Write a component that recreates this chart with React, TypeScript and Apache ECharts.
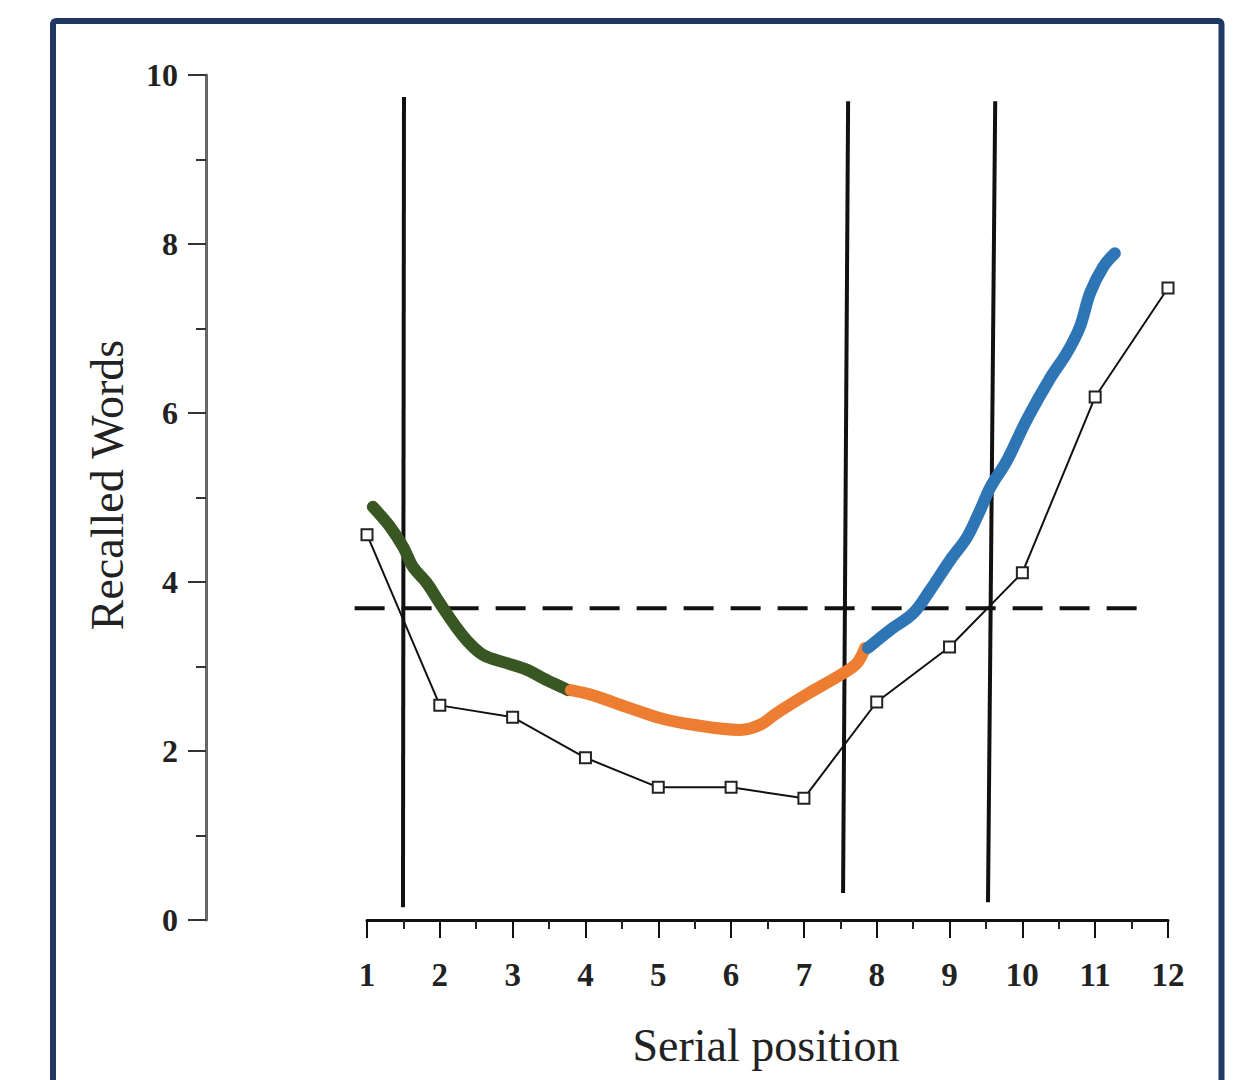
import React, { useEffect, useRef } from "react";
import * as echarts from "echarts";

// Serial-position data (black line with hollow squares)
const serialPositions = [1, 2, 3, 4, 5, 6, 7, 8, 9, 10, 11, 12];
const recalledWords = [4.56, 2.54, 2.4, 1.92, 1.57, 1.57, 1.44, 2.58, 3.23, 4.11, 6.19, 7.48];

// Axis ticks
const xTickValues = [1, 2, 3, 4, 5, 6, 7, 8, 9, 10, 11, 12];
const yTickValues = [0, 2, 4, 6, 8, 10];

// Hand-drawn highlight curves
const primacyCurve = [
  [1.08, 4.89], [1.32, 4.65], [1.5, 4.41], [1.63, 4.18], [1.82, 3.99], [2.0, 3.75],
  [2.18, 3.52], [2.37, 3.31], [2.59, 3.14], [2.92, 3.04], [3.2, 2.96], [3.42, 2.86],
  [3.69, 2.75], [3.76, 2.72],
];
const middleCurve = [
  [3.8, 2.72], [4.1, 2.66], [4.57, 2.52], [5.02, 2.39], [5.48, 2.31], [6.12, 2.25],
  [6.4, 2.31], [6.63, 2.45], [7.08, 2.69], [7.54, 2.92], [7.73, 3.04], [7.84, 3.22],
];
const recencyCurve = [
  [7.88, 3.22], [8.18, 3.43], [8.5, 3.63], [8.73, 3.9], [9.01, 4.26], [9.24, 4.53],
  [9.42, 4.85], [9.56, 5.12], [9.79, 5.44], [10.06, 5.92], [10.38, 6.41], [10.61, 6.71],
  [10.79, 7.02], [10.93, 7.42], [11.11, 7.73], [11.27, 7.89],
];

// Reference lines
const averageLevel = 3.69;
const averageSpan = [0.83, 11.62];
const boundaryLines = [
  [[1.508, 9.74], [1.494, 0.15]],
  [[7.607, 9.69], [7.538, 0.32]],
  [[9.627, 9.69], [9.528, 0.21]],
];

const FONT = "'Liberation Serif', 'Times New Roman', serif";

export default function App() {
  const ref = useRef<HTMLDivElement>(null);

  useEffect(() => {
    if (!ref.current) return;
    const chart = echarts.init(ref.current, undefined, { renderer: "svg" });

    const boundarySeries = boundaryLines.map((pts) => ({
      type: "line",
      data: pts,
      symbol: "none",
      clip: false,
      silent: true,
      lineStyle: { color: "#111", width: 4 },
      z: 2,
    }));

    const curve = (data: number[][], color: string) => ({
      type: "line",
      data,
      symbol: "none",
      smooth: 0.35,
      clip: false,
      lineStyle: { color, width: 12, cap: "round", join: "round" },
      z: 5,
    });

    chart.setOption({
      animation: false,
      backgroundColor: "#ffffff",
      grid: { left: 367, right: 75, top: 75, bottom: 160, containLabel: false },
      xAxis: {
        type: "value",
        min: 1,
        max: 12,
        interval: 1,
        axisLine: { show: true, lineStyle: { color: "#151010", width: 3 } },
        axisTick: { show: true, length: 18, lineStyle: { color: "#151010", width: 2 } },
        minorTick: { show: true, splitNumber: 2, length: 9, lineStyle: { color: "#222", width: 2 } },
        splitLine: { show: false },
        axisLabel: {
          margin: 38,
          fontFamily: FONT,
          fontSize: 33,
          fontWeight: "bold",
          color: "#222",
          formatter: (v: number) => (xTickValues.includes(v) ? String(v) : ""),
        },
      },
      yAxis: {
        type: "value",
        min: 0,
        max: 10,
        interval: 2,
        position: "left",
        offset: 161,
        axisLine: { show: true, lineStyle: { color: "#666", width: 3 } },
        axisTick: { show: true, length: 18, lineStyle: { color: "#333", width: 2 } },
        minorTick: { show: true, splitNumber: 2, length: 10, lineStyle: { color: "#333", width: 2 } },
        splitLine: { show: false },
        axisLabel: {
          margin: 28,
          fontFamily: FONT,
          fontSize: 32,
          fontWeight: "bold",
          color: "#222",
          formatter: (v: number) => (yTickValues.includes(v) ? String(v) : ""),
        },
      },
      graphic: [
        {
          type: "rect",
          shape: { x: 53, y: 21, width: 1168.5, height: 1100, r: 3 },
          style: { fill: "none", stroke: "#203864", lineWidth: 6 },
          silent: true,
          z: 0,
        },
        {
          type: "text",
          x: 107,
          y: 485,
          rotation: Math.PI / 2,
          style: {
            text: "Recalled Words",
            font: `46px ${FONT}`,
            fill: "#222",
            align: "center",
            verticalAlign: "middle",
          },
          silent: true,
        },
        {
          type: "text",
          x: 766,
          y: 1045,
          style: {
            text: "Serial position",
            font: `46px ${FONT}`,
            fill: "#222",
            align: "center",
            verticalAlign: "middle",
          },
          silent: true,
        },
      ],
      series: [
        ...boundarySeries,
        {
          type: "custom",
          silent: true,
          clip: false,
          data: [[averageSpan[0], averageSpan[1], averageLevel]],
          encode: { x: [0, 1], y: 2 },
          renderItem: (params: any, api: any) => {
            const p1 = api.coord([api.value(0), api.value(2)]);
            const p2 = api.coord([api.value(1), api.value(2)]);
            return {
              type: "line",
              shape: { x1: p1[0], y1: p1[1], x2: p2[0], y2: p2[1] },
              style: { stroke: "#111", lineWidth: 4, lineDash: [30, 17], fill: null },
            };
          },
          z: 2,
        },
        {
          type: "line",
          data: serialPositions.map((x, i) => [x, recalledWords[i]]),
          symbol: "rect",
          symbolSize: 11,
          clip: false,
          lineStyle: { color: "#111", width: 2 },
          itemStyle: { color: "#fff", borderColor: "#222", borderWidth: 2 },
          z: 3,
        },
        curve(primacyCurve, "#385723"),
        curve(middleCurve, "#ED7D31"),
        curve(recencyCurve, "#2E75B6"),
      ],
    });

    return () => chart.dispose();
  }, []);

  return (
    <div
      ref={ref}
      style={{ position: "fixed", left: 0, top: 0, width: 1243, height: 1080, background: "#fff" }}
    />
  );
}
